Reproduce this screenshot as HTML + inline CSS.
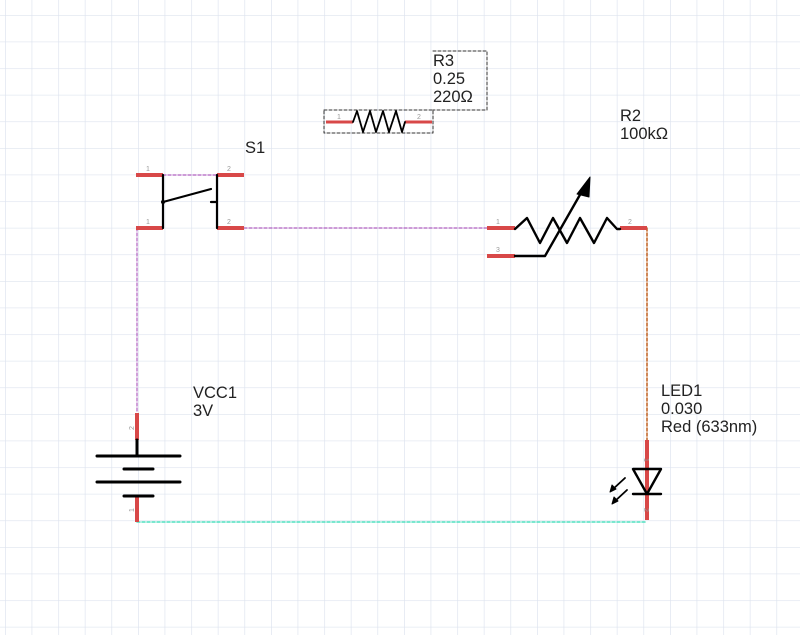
<!DOCTYPE html>
<html><head><meta charset="utf-8"><style>
html,body{margin:0;padding:0;background:#fff}
svg{display:block}
text{font-family:"Liberation Sans",sans-serif}
</style></head><body>
<svg width="800" height="635" viewBox="0 0 800 635" xmlns="http://www.w3.org/2000/svg">
<defs>
<pattern id="g" x="5" y="15" width="26.6" height="26.6" patternUnits="userSpaceOnUse">
<path d="M0 0H26.6M0 0V26.6" stroke="#dde3ee" stroke-width="1.3" fill="none"/>
</pattern>
</defs>
<rect width="800" height="635" fill="url(#g)"/>
<g fill="none" stroke-linecap="round" stroke-linejoin="round">
<path d="M244 228H487M137 228V413M163 175H217" stroke="#b060c0" stroke-width="1.2" stroke-dasharray="3,2"/>
<path d="M647 228V440" stroke="#c06020" stroke-width="1.5" stroke-dasharray="3,2"/>
<path d="M137 522H647" stroke="#50e0c0" stroke-width="1.5" stroke-dasharray="3,2"/>
<path d="M136 175H163M136 228H163M217 175H244M217 228H244" stroke="#d84848" stroke-width="4" stroke-linecap="butt"/>
<path d="M163 175V228M217 175V228M163 202L211 189M211 202H217" stroke="#000" stroke-width="2.2"/>
<circle cx="163" cy="202" r="2" fill="#000"/>
<path d="M487 228H515M487 256H515M620 228H647" stroke="#d84848" stroke-width="4" stroke-linecap="butt"/>
<path d="M515 229L527 218L540 243L553 218L567 243L580 218L594 243L607 218L617 229H620" stroke="#000" stroke-width="2.4"/>
<path d="M515 256H545L585 186" stroke="#000" stroke-width="2.4"/>
<path d="M590 177L577 194L589 197Z" fill="#000" stroke="#000" stroke-width="1"/>
<rect x="324" y="110" width="109" height="23" stroke="#333" stroke-width="1" stroke-dasharray="3,2"/>
<path d="M433 51H487V110H433" stroke="#333" stroke-width="1" stroke-dasharray="3,2"/>
<path d="M326 122H353M405 122H432" stroke="#d84848" stroke-width="3" stroke-linecap="butt"/>
<path d="M353 122L357 111L363 132L370 111L376 132L383 111L389 132L396 111L402 132L405 122" stroke="#000" stroke-width="1.8"/>
<path d="M137 413V440M137 496V522" stroke="#d84848" stroke-width="4" stroke-linecap="butt"/>
<path d="M137 440V456M97 456H180M124 469H153M97 482H180M124 496H153" stroke="#000" stroke-width="3"/>
<path d="M647 440V520" stroke="#d84848" stroke-width="4" stroke-linecap="butt"/>
<path d="M633 469H661L647 494ZM633 494H661" stroke="#000" stroke-width="2.4"/>
<path d="M625 478L612 490M627 490L614 502" stroke="#000" stroke-width="1.8"/>
<path d="M610 492L612 485L616 489ZM612 504L614 497L618 501Z" fill="#000" stroke="#000" stroke-width="1"/>
</g>
<g font-size="7" fill="#999">
<text x="146" y="171">1</text><text x="227" y="171">2</text>
<text x="146" y="224">1</text><text x="227" y="224">2</text>
<text x="496" y="224">1</text><text x="496" y="252">3</text><text x="628" y="224">2</text>
<text x="337" y="119">1</text><text x="417" y="119">2</text>
<text x="134" y="430" transform="rotate(-90 134 430)">2</text>
<text x="134" y="512" transform="rotate(-90 134 512)">1</text>
<text x="644" y="458" transform="rotate(90 644 458)">1</text>
<text x="644" y="508" transform="rotate(90 644 508)">2</text>
</g>
<g font-size="16.5" fill="#222">
<text x="245" y="153">S1</text>
<text x="620" y="121">R2</text><text x="620" y="139">100kΩ</text>
<text x="433" y="66">R3</text><text x="433" y="84">0.25</text><text x="433" y="102">220Ω</text>
<text x="193" y="398">VCC1</text><text x="193" y="416">3V</text>
<text x="661" y="396">LED1</text><text x="661" y="414">0.030</text><text x="661" y="432">Red (633nm)</text>
</g>
</svg>
</body></html>
